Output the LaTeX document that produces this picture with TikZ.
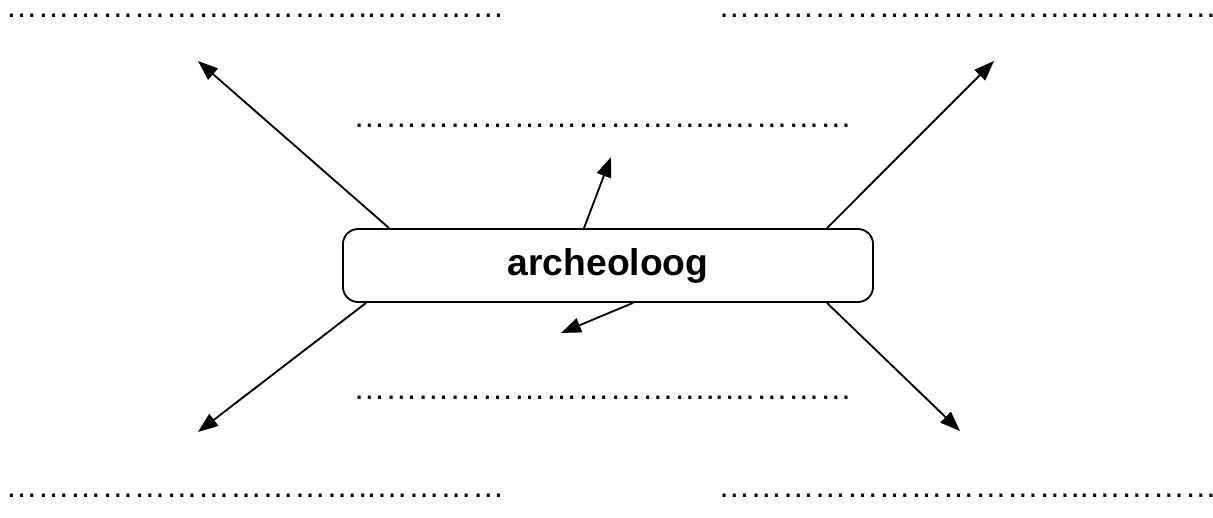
\documentclass[tikz,border=0pt]{standalone}
\usepackage{fontspec}
\setmainfont{Liberation Sans}
\usetikzlibrary{arrows.meta}
\newcommand{\ellip}{…}
\newcommand{\fillin}{\ellip\ellip\ellip\ellip\ellip\ellip\ellip\ellip\ellip\ellip\ellip..\ellip\ellip\ellip\ellip}
\begin{document}
\begin{tikzpicture}[x=0.025cm, y=-0.025cm,
		box/.style={rectangle, draw, line width=1.3pt, rounded corners=0.38cm, minimum width=13.25cm, minimum height=1.825cm, inner sep=0pt, font=\fontsize{26.5}{30}\selectfont\bfseries},
		blank/.style={anchor=base west, inner sep=0pt, text height=0.1cm, text depth=0pt, font=\fontsize{22.8}{27}\selectfont},
		arr/.style={-{Triangle[length=0.5cm, width=0.37cm]}, line width=1.3pt}]
		\useasboundingbox (0,0) rectangle (1213,518);
		\node[box] (arch) at (608,265.5) {archeoloog};
		\node[blank] (blankTL) at (5.3,17.5) {\fillin};
		\node[blank] (blankTR) at (718,17.5) {\fillin};
		\node[blank] (blankMU) at (353,128) {\fillin};
		\node[blank] (blankML) at (353,400) {\fillin};
		\node[blank] (blankBL) at (5.3,497) {\fillin};
		\node[blank] (blankBR) at (718,497) {\fillin};
		\coordinate (tipTL) at (198,61);
		\coordinate (tipTR) at (994,61);
		\coordinate (tipBL) at (198,432);
		\coordinate (tipBR) at (960,431);
		\coordinate (tipUp) at (611,157);
		\coordinate (tipDown) at (561,333);
		
		\draw[arr] ([xshift=1.175cm]arch.north west) -- (tipTL);
		\draw[arr] ([xshift=-1.175cm]arch.north east) -- (tipTR);
		\draw[arr] ([xshift=0.6cm]arch.south west) -- (tipBL);
		\draw[arr] ([xshift=-1.175cm]arch.south east) -- (tipBR);
		\draw[arr] ([xshift=-0.6cm]arch.north) -- (tipUp);
		\draw[arr] ([xshift=0.625cm]arch.south) -- (tipDown);
	\end{tikzpicture}
\end{document}
